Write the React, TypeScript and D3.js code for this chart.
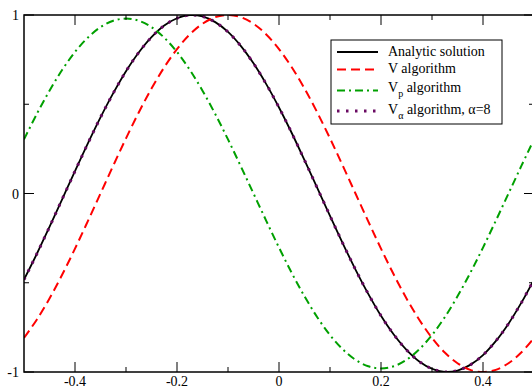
import React from "react";
import * as d3 from "d3";

const xValues = d3.range(41).map((i) => -0.5 + i * 0.025);

const analytic = [
  -0.482, -0.339, -0.187, -0.031, 0.125, 0.279, 0.426, 0.562, 0.685, 0.79, 0.876,
  0.941, 0.982, 0.9995, 0.992, 0.96, 0.905, 0.827, 0.729, 0.613, 0.482, 0.339,
  0.187, 0.031, -0.125, -0.279, -0.426, -0.562, -0.685, -0.79, -0.876, -0.941,
  -0.982, -0.9995, -0.992, -0.96, -0.905, -0.827, -0.729, -0.613, -0.482,
];

const vAlgorithm = [
  -0.809, -0.707, -0.588, -0.454, -0.309, -0.156, 0, 0.156, 0.309, 0.454, 0.588,
  0.707, 0.809, 0.891, 0.951, 0.988, 1, 0.988, 0.951, 0.891, 0.809, 0.707, 0.588,
  0.454, 0.309, 0.156, 0, -0.156, -0.309, -0.454, -0.588, -0.707, -0.809, -0.891,
  -0.951, -0.988, -1, -0.988, -0.951, -0.891, -0.809,
];

const vpAlgorithm = [
  0.303, 0.445, 0.576, 0.693, 0.793, 0.873, 0.932, 0.968, 0.98, 0.968, 0.932,
  0.873, 0.793, 0.693, 0.576, 0.445, 0.303, 0.153, 0, -0.153, -0.303, -0.445,
  -0.576, -0.693, -0.793, -0.873, -0.932, -0.968, -0.98, -0.968, -0.932, -0.873,
  -0.793, -0.693, -0.576, -0.445, -0.303, -0.153, 0, 0.153, 0.303,
];

const vAlphaAlgorithm = [
  -0.482, -0.339, -0.187, -0.031, 0.125, 0.279, 0.426, 0.562, 0.685, 0.79, 0.876,
  0.941, 0.982, 0.9995, 0.992, 0.96, 0.905, 0.827, 0.729, 0.613, 0.482, 0.339,
  0.187, 0.031, -0.125, -0.279, -0.426, -0.562, -0.685, -0.79, -0.876, -0.941,
  -0.982, -0.9995, -0.992, -0.96, -0.905, -0.827, -0.729, -0.613, -0.482,
];

const xMajorTicks = [-0.4, -0.2, 0, 0.2, 0.4];
const xTickLabels = ["-0.4", "-0.2", "0", "0.2", "0.4"];
const xMinorTicks = [-0.3, -0.1, 0.1, 0.3];
const yMajorTicks = [-1, 0, 1];
const yTickLabels = ["-1", "0", "1"];
const yMinorTicks = [-0.5, 0.5];

const FONT = "'Liberation Serif', 'DejaVu Serif', serif";

export default function App() {
  const W = 532;
  const H = 388;
  const left = 24;
  const right = 534;
  const top = 15;
  const bottom = 372;

  const x = d3.scaleLinear().domain([-0.5, 0.5]).range([left, right]);
  const y = d3.scaleLinear().domain([-1, 1]).range([bottom, top]);

  const line = (vals: number[]) =>
    d3
      .line<number>()
      .x((_, i) => x(xValues[i]))
      .y((d) => y(d))
      .curve(d3.curveCatmullRom)(vals) || "";

  const series = [
    { vals: analytic, color: "#000000", width: 1.8, dash: undefined as string | undefined },
    { vals: vAlgorithm, color: "#ff0000", width: 2, dash: "9,5" },
    { vals: vpAlgorithm, color: "#00a000", width: 2, dash: "8,4,2,4" },
    { vals: vAlphaAlgorithm, color: "#6a0a62", width: 3, dash: "2.5,6.5" },
  ];

  const legendRows = [
    { y: 52, base: 55.5, main: "Analytic solution", sub: "", rest: "" },
    { y: 69.5, base: 73, main: "V algorithm", sub: "", rest: "" },
    { y: 90.5, base: 91.5, main: "V", sub: "p", rest: " algorithm" },
    { y: 111, base: 114, main: "V", sub: "α", rest: " algorithm, α=8" },
  ];

  const textStyle = { fontFamily: FONT };

  return (
    <svg
      width={W}
      height={H}
      style={{ position: "absolute", left: 0, top: 0, background: "#fff" }}
    >
      <rect x={0} y={0} width={W} height={H} fill="#fff" />
      <defs>
        <clipPath id="plot">
          <rect x={left} y={top} width={right - left} height={bottom - top} />
        </clipPath>
      </defs>
      <g clipPath="url(#plot)">
        {series.map((s, i) => (
          <path
            key={i}
            d={line(s.vals)}
            fill="none"
            stroke={s.color}
            strokeWidth={s.width}
            strokeDasharray={s.dash}
          />
        ))}
      </g>
      <rect x={left} y={top} width={right - left} height={bottom - top} fill="none" stroke="#000" strokeWidth={1.5} />
      {xMajorTicks.map((t) => (
        <g key={"xm" + t}>
          <line x1={x(t)} x2={x(t)} y1={bottom} y2={bottom - 10} stroke="#000" strokeWidth={1} />
          <line x1={x(t)} x2={x(t)} y1={top} y2={top + 10} stroke="#000" strokeWidth={1} />
        </g>
      ))}
      {xMinorTicks.map((t) => (
        <g key={"xn" + t}>
          <line x1={x(t)} x2={x(t)} y1={bottom} y2={bottom - 5} stroke="#000" strokeWidth={1} />
          <line x1={x(t)} x2={x(t)} y1={top} y2={top + 5} stroke="#000" strokeWidth={1} />
        </g>
      ))}
      {yMajorTicks.map((t) => (
        <g key={"ym" + t}>
          <line x1={left} x2={left + 10} y1={y(t)} y2={y(t)} stroke="#000" strokeWidth={1} />
          <line x1={right} x2={right - 10} y1={y(t)} y2={y(t)} stroke="#000" strokeWidth={1} />
        </g>
      ))}
      {yMinorTicks.map((t) => (
        <g key={"yn" + t}>
          <line x1={left} x2={left + 5} y1={y(t)} y2={y(t)} stroke="#000" strokeWidth={1} />
          <line x1={right} x2={right - 5} y1={y(t)} y2={y(t)} stroke="#000" strokeWidth={1} />
        </g>
      ))}
      {xMajorTicks.map((t, i) => (
        <text key={"xl" + t} x={x(t)} y={385.5} fontSize={14} textAnchor="middle" fill="#000" style={textStyle}>
          {xTickLabels[i]}
        </text>
      ))}
      {yMajorTicks.map((t, i) => (
        <text
          key={"yl" + t}
          x={19}
          y={y(t) + 5}
          fontSize={14}
          textAnchor="end"
          fill="#000"
          style={textStyle}
        >
          {yTickLabels[i]}
        </text>
      ))}
      <rect x={331} y={40} width={171} height={84} fill="#fff" stroke="#000" strokeWidth={1} />
      {legendRows.map((r, i) => {
        const s = series[i];
        return (
          <g key={"lg" + i}>
            <line
              x1={337}
              x2={378}
              y1={r.y}
              y2={r.y}
              stroke={s.color}
              strokeWidth={s.width}
              strokeDasharray={s.dash}
            />
            <text x={388} y={r.base} fontSize={14} fill="#000" style={textStyle}>
              {r.main}
              {r.sub && (
                <tspan dy={5} fontSize={10}>
                  {r.sub}
                </tspan>
              )}
              {r.sub && <tspan dy={-5}>{r.rest}</tspan>}
            </text>
          </g>
        );
      })}
    </svg>
  );
}
